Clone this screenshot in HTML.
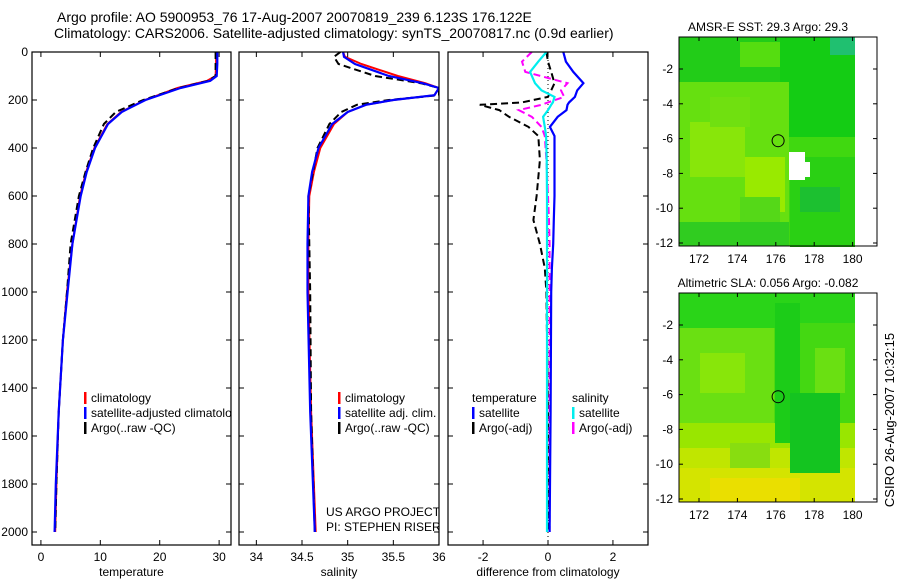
<!DOCTYPE html>
<html><head><meta charset="utf-8"><style>
body{margin:0;background:#fff;}
svg{display:block;font-family:"Liberation Sans",sans-serif;}
text{fill:#000;}
</style></head><body>
<svg id="chart" width="900" height="580" viewBox="0 0 900 580">
<defs>
<clipPath id="clip1"><rect x="32" y="52" width="199" height="493"/></clipPath>
<clipPath id="clip2"><rect x="239" y="52" width="200" height="493"/></clipPath>
</defs>
<text x="57" y="22" font-size="14">Argo profile: AO 5900953_76 17-Aug-2007 20070819_239 6.123S 176.122E</text>
<text x="54" y="38" font-size="14">Climatology: CARS2006. Satellite-adjusted climatology: synTS_20070817.nc (0.9d earlier)</text>
<g id="maps"></g>
<g id="plots"></g>
<text transform="translate(894,420) rotate(-90)" font-size="13" text-anchor="middle">CSIRO 26-Aug-2007 10:32:15</text>
</svg>
<script>
// ---- data ----
const depthT=[0,50,100,120,150,200,250,300,400,500,600,800,1000,1200,1500,1800,2000];
const tempClim=[29.5,29.5,29.4,28,23,17.5,13.5,11.2,9,7.6,6.6,5.3,4.4,3.7,3.0,2.6,2.4];
const tempSat=[29.7,29.7,29.6,28.5,23.5,17.6,13.6,11.3,9.1,7.7,6.7,5.3,4.5,3.7,3.0,2.5,2.3];
const tempArgo=[29.4,29.4,29.4,28.2,23.2,17.2,12.6,10.6,8.8,7.5,6.4,5.0,4.4,3.7,3.0,2.6,2.4];
const depthS=[0,20,50,100,130,150,180,200,220,250,300,400,500,600,800,1000,1500,2000];
const salClim=[34.95,34.97,35.15,35.55,35.85,36.0,35.95,35.5,35.2,35.0,34.85,34.7,34.63,34.58,34.57,34.57,34.6,34.65];
const salSat=[34.95,34.96,35.08,35.45,35.82,36.0,35.95,35.5,35.2,35.0,34.83,34.68,34.61,34.57,34.56,34.56,34.59,34.64];
const salArgo=[34.92,34.85,34.9,35.3,35.8,36.0,36.0,35.45,35.1,34.93,34.8,34.67,34.62,34.57,34.58,34.59,34.6,34.64];
const depthD=[0,40,83,130,160,187,210,220,242,270,312,350,450,600,700,800,900,1000,1500,2000];
const dTempSat=[0.47,0.55,0.78,1.09,0.9,0.83,0.65,0.6,0.57,0.3,0.06,0.2,0.2,0.2,0.18,0.16,0.12,0.1,0.08,0.05];
const dTempArgo=[-0.05,0.0,0.1,0.2,0.1,0.0,-0.8,-2.1,-1.5,-1.2,-0.6,-0.3,-0.25,-0.35,-0.45,-0.25,-0.1,-0.05,0.0,0.0];
const dSalSat=[-0.05,-0.3,-0.55,-0.4,-0.2,0.2,0.15,0.1,0.0,-0.15,-0.1,-0.06,-0.04,-0.03,-0.03,-0.03,-0.03,-0.03,-0.03,-0.03];
const dSalArgo=[-0.5,-0.8,-0.7,0.6,0.4,0.5,0.0,-0.2,-0.9,-0.5,-0.2,-0.1,-0.05,0.0,0.03,0.05,0.05,0.05,0.05,0.05];
const depthTicks=[0,200,400,600,800,1000,1200,1400,1600,1800,2000];
const tempTicks=[0,10,20,30];
const salTicks=[34,34.5,35,35.5,36];
const diffTicks=[-2,0,2];
const lonTicks=[172,174,176,178,180];
const latTicks=[-2,-4,-6,-8,-10,-12];

const NS='http://www.w3.org/2000/svg';
function mk(tag,attrs,parent){const e=document.createElementNS(NS,tag);for(const k in attrs)e.setAttribute(k,attrs[k]);parent.appendChild(e);return e;}
const plots=document.getElementById('plots');
const yD=d=>52+d*0.24;
const topY=52,botY=545;

function panel(name,x0,x1,xmin,xmax,ticks,label,showY,clip){
  const g=mk('g',{},plots);
  
  
  const inner=mk('g',clip?{'clip-path':'url(#'+clip+')'}:{},g);
  const xs=v=>x0+(v-xmin)/(xmax-xmin)*(x1-x0);
  const r=mk('rect',{x:x0,y:topY,width:x1-x0,height:botY-topY,fill:'none',stroke:'#000','stroke-width':1.2},g);
  
  
  ticks.forEach(t=>{
    const x=xs(t);
    mk('line',{x1:x,x2:x,y1:botY,y2:botY-5,stroke:'#000'},g);
    mk('line',{x1:x,x2:x,y1:topY,y2:topY+5,stroke:'#000'},g);
    const tx=mk('text',{x:x,y:botY+16,'font-size':12,'text-anchor':'middle'},g);
    tx.textContent=t;
    
    
  });
  depthTicks.forEach(d=>{
    const y=yD(d);
    mk('line',{x1:x0,x2:x0+5,y1:y,y2:y,stroke:'#000'},g);
    mk('line',{x1:x1,x2:x1-5,y1:y,y2:y,stroke:'#000'},g);
    if(showY){const tx=mk('text',{x:x0-4,y:y+4,'font-size':12,'text-anchor':'end'},g);
      tx.textContent=d;
      
      }
  });
  const lb=mk('text',{x:(x0+x1)/2,y:576,'font-size':12,'text-anchor':'middle'},g);
  lb.textContent=label;
  
  
  return {g:inner,xs};
}
function line(p,depths,vals,color,dash,w,name){
  const pts=depths.map((d,i)=>p.xs(vals[i]).toFixed(1)+','+yD(d).toFixed(1)).join(' ');
  const l=mk('polyline',{points:pts,fill:'none',stroke:color,'stroke-width':w,'stroke-dasharray':dash||'none'},p.g);
  
  
}
function legend(p,x,y,items){
  items.forEach((it,i)=>{
    if(it[0]){mk('rect',{x:x,y:y+i*15-10,width:2.5,height:12,fill:it[0]},p.g);}
    const t=mk('text',{x:x+(it[0]?7:0),y:y+i*15,'font-size':12},p.g);
    t.textContent=it[1];
    
    
  });
}
const p1=panel('temperature-panel',32,231,-1.5,32,tempTicks,'temperature',true,'clip1');
line(p1,depthT,tempClim,'#f00','',2,'temp-climatology-line');
line(p1,depthT,tempArgo,'#000','7 4',2,'temp-argo-line');
line(p1,depthT,tempSat,'#00f','',2.2,'temp-satellite-line');
legend(p1,84,402,[['#f00','climatology'],['#00f','satellite-adjusted climatology'],['#000','Argo(..raw -QC)']]);

const p2=panel('salinity-panel',239,439,33.81,36.0,salTicks,'salinity',false,'clip2');
line(p2,depthS,salClim,'#f00','',2,'sal-climatology-line');
line(p2,depthS,salArgo,'#000','7 4',2,'sal-argo-line');
line(p2,depthS,salSat,'#00f','',2.2,'sal-satellite-line');
legend(p2,338,402,[['#f00','climatology'],['#00f','satellite adj. clim.'],['#000','Argo(..raw -QC)']]);
const u1=mk('text',{x:326,y:516,'font-size':12},p2.g);u1.textContent='US ARGO PROJECT';

const u2=mk('text',{x:326,y:531,'font-size':12},p2.g);u2.textContent='PI: STEPHEN RISER';


const p3=panel('difference-panel',448,648,-3.08,3.08,diffTicks,'difference from climatology',false,null);
mk('line',{x1:p3.xs(0),x2:p3.xs(0),y1:topY,y2:botY,stroke:'#000','stroke-dasharray':'1 3'},p3.g);
line(p3,depthD,dTempArgo,'#000','7 4',2,'diff-temp-argo-line');
line(p3,depthD,dSalArgo,'#f0f','7 4',2,'diff-sal-argo-line');
line(p3,depthD,dTempSat,'#00f','',2.2,'diff-temp-satellite-line');
line(p3,depthD,dSalSat,'#0ee','',2.2,'diff-sal-satellite-line');
legend(p3,472,402,[[null,'temperature'],['#00f','satellite'],['#000','Argo(-adj)']]);
legend(p3,572,402,[[null,'salinity'],['#0ee','satellite'],['#f0f','Argo(-adj)']]);

// ---- maps ----
const maps=document.getElementById('maps');
function map(name,y0,title,blobs,base){
  const g=mk('g',{},maps);
  
  
  const x0=679,x1=877,h=209;
  const lx=v=>699+(v-172)*19.2;
  const ly=v=>y0+32+(-v-2)*17.4;
  mk('rect',{x:x0,y:y0,width:855-x0,height:h,fill:base},g);
  blobs.forEach(b=>mk('rect',{x:b[0],y:y0+b[1],width:b[2],height:b[3],fill:b[4]},g));
  mk('rect',{x:x0,y:y0,width:x1-x0,height:h,fill:'none',stroke:'#000'},g);
  const c=mk('circle',{cx:lx(176.12),cy:ly(-6.12),r:6,fill:'none',stroke:'#000'},g);
  
  
  lonTicks.forEach(t=>{const x=lx(t);
    mk('line',{x1:x,x2:x,y1:y0+h,y2:y0+h-4,stroke:'#000'},g);
    mk('line',{x1:x,x2:x,y1:y0,y2:y0+4,stroke:'#000'},g);
    const tx=mk('text',{x:x,y:y0+h+17,'font-size':12,'text-anchor':'middle'},g);tx.textContent=t;
    });
  latTicks.forEach(t=>{const y=ly(t);
    mk('line',{x1:x0,x2:x0+4,y1:y,y2:y,stroke:'#000'},g);
    mk('line',{x1:x1,x2:x1-4,y1:y,y2:y,stroke:'#000'},g);
    const tx=mk('text',{x:x0-6,y:y+4,'font-size':12,'text-anchor':'end'},g);tx.textContent=t;
    });
  const tt=mk('text',{x:x0+(x1-x0)/2-10,y:y0-6,'font-size':12,'text-anchor':'middle'},g);tt.textContent=title;
  
}
map('sst-map',37,'AMSR-E SST: 29.3 Argo: 29.3',[
 [679,0,176,45,'#22cc18'],[780,0,75,100,'#14cc14'],[830,0,25,18,'#20c070'],
 [740,5,40,25,'#55dd10'],
 [679,45,110,140,'#66e010'],[690,85,55,55,'#88e60a'],[745,120,40,55,'#99ea00'],
 [710,60,40,30,'#70e010'],[679,185,110,24,'#30cc20'],[740,160,40,25,'#55d818'],
 [790,120,65,90,'#2ad014'],[800,150,40,25,'#1cc030'],
 [789,115,16,28,'#fff'],[800,125,10,15,'#fff']
],'#40d810');
map('sla-map',293,'Altimetric SLA: 0.056 Argo: -0.082',[
 [679,0,176,35,'#2ad418'],[679,35,95,110,'#6ae012'],[700,60,45,40,'#88e60a'],
 [780,30,75,110,'#44d812'],[815,55,30,45,'#6ae012'],
 [679,130,176,30,'#99e600'],[679,155,176,54,'#c0e600'],
 [679,175,176,34,'#d4e400'],[710,185,90,24,'#eadf00'],
 [775,10,25,140,'#1ccc18'],[790,100,50,80,'#14c420'],[730,150,40,25,'#88dd10']
],'#50da10');
</script>
</body></html>
